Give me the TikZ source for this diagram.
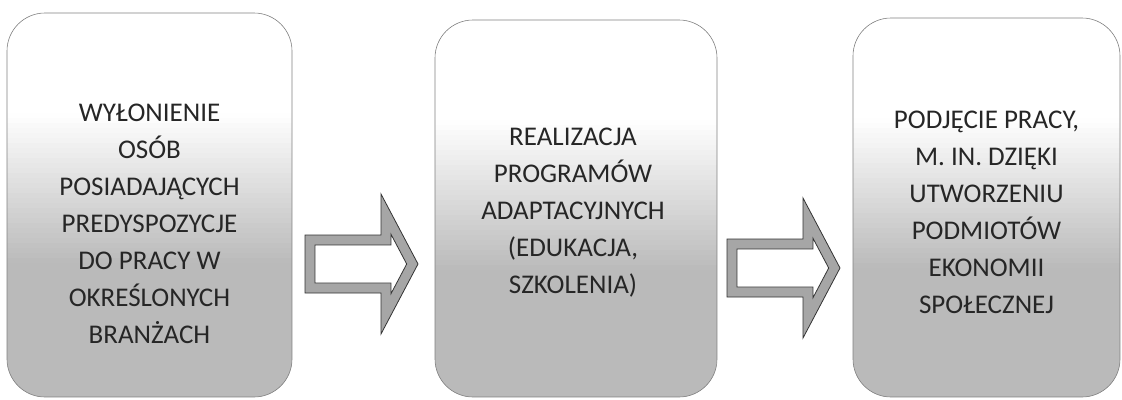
\documentclass[tikz,border=0pt]{standalone}
\usepackage{fontspec}
\setmainfont{Carlito}
\usetikzlibrary{calc}
\tikzset{
  box/.style={draw=black!50, line width=0.6pt, rounded corners=38pt, inner sep=0pt,
    path picture={
      \foreach \i in {0,...,29}{
        \pgfmathsetmacro\shadelevel{27*(\i+0.5)/30}
        \fill[black!\shadelevel, sharp corners]
          ($(path picture bounding box.north west)+(0pt,{-100pt-5pt*\i})$) rectangle
          ($(path picture bounding box.north east)+(0pt,{-105.6pt-5pt*\i})$);
      }
      \fill[black!27, sharp corners]
        ($(path picture bounding box.north east)+(0pt,-250pt)$) rectangle
        (path picture bounding box.south west);
    }},
  boxlabel/.style={font=\fontsize{27pt}{37pt}\selectfont, align=center, text=black!85, inner sep=0pt},
  arrowband/.style={fill=black!35, draw=black!80, line width=0.8pt},
  arrowinner/.style={fill=white, draw=black!80, line width=0.8pt}
}
\newcommand\blockarrowat[1]{%
  \begin{scope}[shift={#1}]
    \draw[arrowband] (0,-29) -- (76,-29) -- (76,-70) -- (113,0) -- (76,70) -- (76,29) -- (0,29) -- cycle;
    \draw[arrowinner] (10,-19) -- (86,-19) -- (86,-29.7) -- (101.7,0) -- (86,29.7) -- (86,19) -- (10,19) -- cycle;
  \end{scope}}
\begin{document}
\begin{tikzpicture}[x=1pt,y=-1pt]
  \useasboundingbox (0,0) rectangle (1122,399);
  \node[box, minimum width=285pt, minimum height=384pt] (b1) at (149.5,205) {};
  \node[box, minimum width=282pt, minimum height=377pt] (b2) at (576,208.5) {};
  \node[box, minimum width=267pt, minimum height=379pt] (b3) at (986.5,207.5) {};
  \node[boxlabel] (t1) at ($(b1.center)+(0,19)$) {WYŁONIENIE\\OSÓB\\POSIADAJĄCYCH\\PREDYSPOZYCJE\\DO PRACY W\\OKREŚLONYCH\\BRANŻACH};
  \node[boxlabel] (t2) at ($(b2.center)+(-3,4)$) {REALIZACJA\\PROGRAMÓW\\ADAPTACYJNYCH\\(EDUKACJA,\\SZKOLENIA)};
  \node[boxlabel] (t3) at ($(b3.center)+(0,5)$) {PODJĘCIE PRACY,\\M. IN. DZIĘKI\\UTWORZENIU\\PODMIOTÓW\\EKONOMII\\SPOŁECZNEJ};
  \blockarrowat{(305,264)}
  \blockarrowat{(727,268)}
\end{tikzpicture}
\end{document}
